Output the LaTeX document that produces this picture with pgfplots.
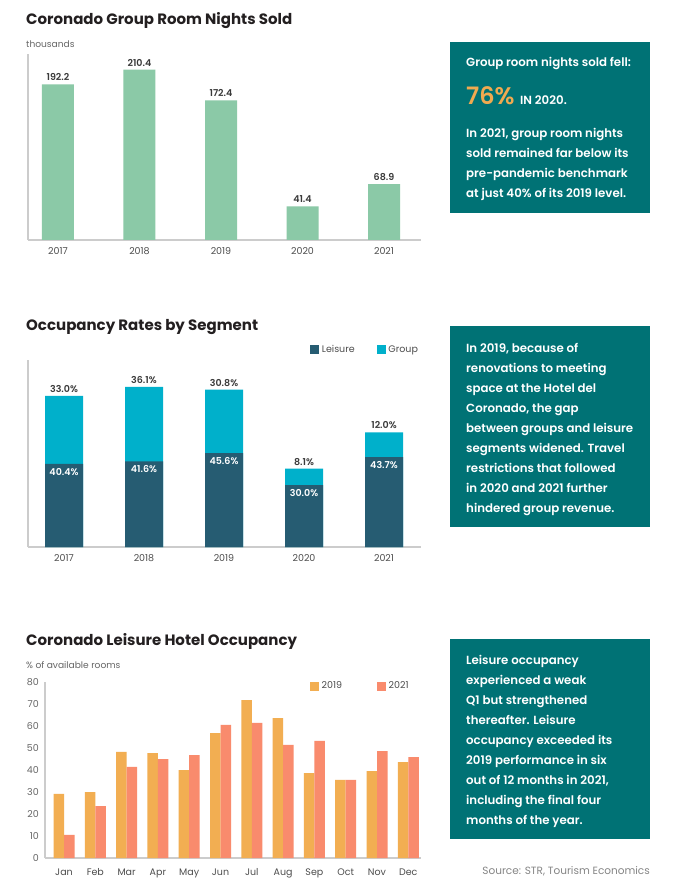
\documentclass[border=0pt]{standalone}
\usepackage{fontspec}
\setmainfont{Poppins}
\newfontfamily\sbfont{Poppins SemiBold}
\usepackage{pgfplots}
\pgfplotsset{compat=1.18}

\definecolor{titlec}{HTML}{231F20}
\definecolor{axisgray}{HTML}{CCCCCC}
\definecolor{ticktext}{HTML}{4D4D4D}
\definecolor{labeltext}{HTML}{3A3A3A}
\definecolor{subtext}{HTML}{666666}
\definecolor{mint}{HTML}{8BC9A7}
\definecolor{boxteal}{HTML}{007275}
\definecolor{accent}{HTML}{F0AA50}
\definecolor{leisure}{HTML}{265C72}
\definecolor{group}{HTML}{00B0CB}
\definecolor{yrA}{HTML}{F2AE52}
\definecolor{yrB}{HTML}{F98B6D}

\tikzset{vlabel/.style={anchor=base, inner sep=0pt,
      font=\sbfont\fontsize{9.5}{10}\selectfont, text=labeltext}}

\pgfplotsset{
  panel/.style={
    scale only axis,
    anchor=south west,
    axis lines*=left,
    axis line style={-, axisgray, line width=1.5pt},
    major tick length=0pt,
    ymin=0,
    tick label style={font=\fontsize{9.5}{10}\selectfont, text=ticktext, inner sep=0pt},
    xticklabel style={anchor=base},
    /pgf/number format/assume math mode=true,
    legend style={draw=none, fill=none, legend columns=2, inner sep=0pt,
      font=\fontsize{9.5}{11}\selectfont, text=ticktext},
  },
  squarekey/.style={
    legend image code/.code={
      \fill[##1, draw=none] (0pt,-4.5pt) rectangle (9pt,4.5pt);
      \path (9.5pt,0pt);},
  },
}

\begin{document}
\begin{tikzpicture}
\path[use as bounding box, fill=white] (0pt,0pt) rectangle (675pt,-890pt);

% ---------- chart 1 ----------
\node[anchor=base west, inner sep=0pt, font=\fontsize{15}{16}\selectfont\bfseries, text=titlec]
  at (26pt,-24.5pt) {Coronado Group Room Nights Sold};
\node[anchor=base west, inner sep=0pt, font=\fontsize{9.1}{10}\selectfont, text=subtext]
  at (26pt,-47.5pt) {thousands};

\begin{axis}[panel, at={(28pt,-240pt)}, width=393pt, height=186pt,
  xmin=-0.368, xmax=4.454, ymax=229.6, ytick=\empty,
  xtick={0,1,2,3,4}, xticklabels={2017,2018,2019,2020,2021},
  xticklabel style={yshift=-14.5pt}]
  \addplot[ybar, bar width=32pt, fill=mint, draw=none,
    nodes near coords, point meta=explicit symbolic,
    nodes near coords style={vlabel, yshift=3.5pt}]
    coordinates {(0,192.2)[192.2] (1,210.4)[210.4] (2,172.4)[172.4] (3,41.4)[41.4] (4,68.9)[68.9]};
\end{axis}

\fill[boxteal] (450pt,-42pt) rectangle (650pt,-213pt);
\begin{scope}[every node/.style={anchor=base west, inner sep=0pt, text=white,
    font=\sbfont\fontsize{11.8}{13}\selectfont}]
  \node at (466pt,-67pt) {Group room nights sold fell:};
  \node[text=accent, font=\sbfont\fontsize{24}{26}\selectfont] at (466pt,-105pt) {76\%};
  \node at (520pt,-105pt) {IN 2020.};
  \node at (466pt,-138pt) {In 2021, group room nights};
  \node at (466pt,-158pt) {sold remained far below its};
  \node at (466pt,-178pt) {pre-pandemic benchmark};
  \node at (466pt,-198pt) {at just 40\% of its 2019 level.};
\end{scope}

% ---------- chart 2 ----------
\node[anchor=base west, inner sep=0pt, font=\fontsize{15}{16}\selectfont\bfseries, text=titlec]
  at (26pt,-330.5pt) {Occupancy Rates by Segment};

% group bars are drawn at leisure + group height, leisure bars in front
\begin{axis}[panel, at={(28pt,-547pt)}, width=393pt, height=187pt,
  xmin=-0.45, xmax=4.4625, ymax=90.8, ytick=\empty,
  xtick={0,1,2,3,4}, xticklabels={2017,2018,2019,2020,2021},
  xticklabel style={yshift=-14.5pt},
  squarekey,
  legend style={at={(rel axis cs:0.7176,1.0535)}, anchor=west,
    /tikz/every even column/.append style={column sep=20pt}},
  point meta=explicit symbolic]
  \addplot[ybar, bar width=38pt, bar shift=0pt, fill=group, draw=none, forget plot,
    nodes near coords, nodes near coords style={vlabel, yshift=3.5pt}]
    coordinates {(0,73.4)[33.0\%] (1,77.7)[36.1\%] (2,76.4)[30.8\%] (3,38.1)[8.1\%] (4,55.7)[12.0\%]};
  \addplot[ybar, bar width=38pt, bar shift=0pt, fill=leisure, draw=none, forget plot,
    nodes near coords, nodes near coords style={vlabel, yshift=-11.5pt, text=white}]
    coordinates {(0,40.4)[40.4\%] (1,41.6)[41.6\%] (2,45.6)[45.6\%] (3,30.0)[30.0\%] (4,43.7)[43.7\%]};
  \addlegendimage{squarekey, fill=leisure}
  \addlegendentry{Leisure}
  \addlegendimage{squarekey, fill=group}
  \addlegendentry{Group}
\end{axis}

\fill[boxteal] (450pt,-326pt) rectangle (650pt,-527pt);
\begin{scope}[every node/.style={anchor=base west, inner sep=0pt, text=white,
    font=\sbfont\fontsize{11.8}{13}\selectfont}]
  \node at (466pt,-352pt) {In 2019, because of};
  \node at (466pt,-372pt) {renovations to meeting};
  \node at (466pt,-392pt) {space at the Hotel del};
  \node at (466pt,-412pt) {Coronado, the gap};
  \node at (466pt,-432pt) {between groups and leisure};
  \node at (466pt,-452pt) {segments widened. Travel};
  \node at (466pt,-472pt) {restrictions that followed};
  \node at (466pt,-492pt) {in 2020 and 2021 further};
  \node at (466pt,-512pt) {hindered group revenue.};
\end{scope}

% ---------- chart 3 ----------
\node[anchor=base west, inner sep=0pt, font=\fontsize{15}{16}\selectfont\bfseries, text=titlec]
  at (26pt,-645pt) {Coronado Leisure Hotel Occupancy};
\node[anchor=base west, inner sep=0pt, font=\fontsize{9.1}{10}\selectfont, text=subtext]
  at (26pt,-668.7pt) {\% of available rooms};

\begin{axis}[panel, at={(45pt,-858pt)}, width=376pt, height=176pt,
  xmin=-0.607, xmax=11.406, ymax=80,
  ytick={0,10,...,80},
  yticklabel style={anchor=east, xshift=-6pt, text=subtext},
  ybar=0pt, bar width=10.5pt,
  xtick={0,...,11},
  xticklabels={Jan,Feb,Mar,Apr,May,Jun,Jul,Aug,Sep,Oct,Nov,Dec},
  xticklabel style={yshift=-17pt},
  squarekey,
  legend style={at={(rel axis cs:0.7048,0.977)}, anchor=west,
    /tikz/every even column/.append style={column sep=33pt}}]
  \addplot[fill=yrA, draw=none, squarekey] coordinates {
    (0,29.1) (1,30.0) (2,48.2) (3,47.7) (4,40.0) (5,56.8)
    (6,71.8) (7,63.6) (8,38.6) (9,35.5) (10,39.5) (11,43.6)};
  \addlegendentry{2019}
  \addplot[fill=yrB, draw=none, squarekey] coordinates {
    (0,10.5) (1,23.6) (2,41.4) (3,45.0) (4,46.8) (5,60.5)
    (6,61.4) (7,51.4) (8,53.2) (9,35.5) (10,48.6) (11,45.9)};
  \addlegendentry{2021}
\end{axis}

\fill[boxteal] (450pt,-639pt) rectangle (650pt,-839pt);
\begin{scope}[every node/.style={anchor=base west, inner sep=0pt, text=white,
    font=\sbfont\fontsize{11.8}{13}\selectfont}]
  \node at (466pt,-664pt) {Leisure occupancy};
  \node at (466pt,-684pt) {experienced a weak};
  \node at (466pt,-704pt) {Q1 but strengthened};
  \node at (466pt,-724pt) {thereafter. Leisure};
  \node at (466pt,-744pt) {occupancy exceeded its};
  \node at (466pt,-764pt) {2019 performance in six};
  \node at (466pt,-784pt) {out of 12 months in 2021,};
  \node at (466pt,-804pt) {including the final four};
  \node at (466pt,-824pt) {months of the year.};
\end{scope}
\node[anchor=base east, inner sep=0pt, font=\fontsize{10.5}{11}\selectfont, text=subtext!80]
  at (650pt,-874pt) {Source: STR, Tourism Economics};
\end{tikzpicture}
\end{document}
